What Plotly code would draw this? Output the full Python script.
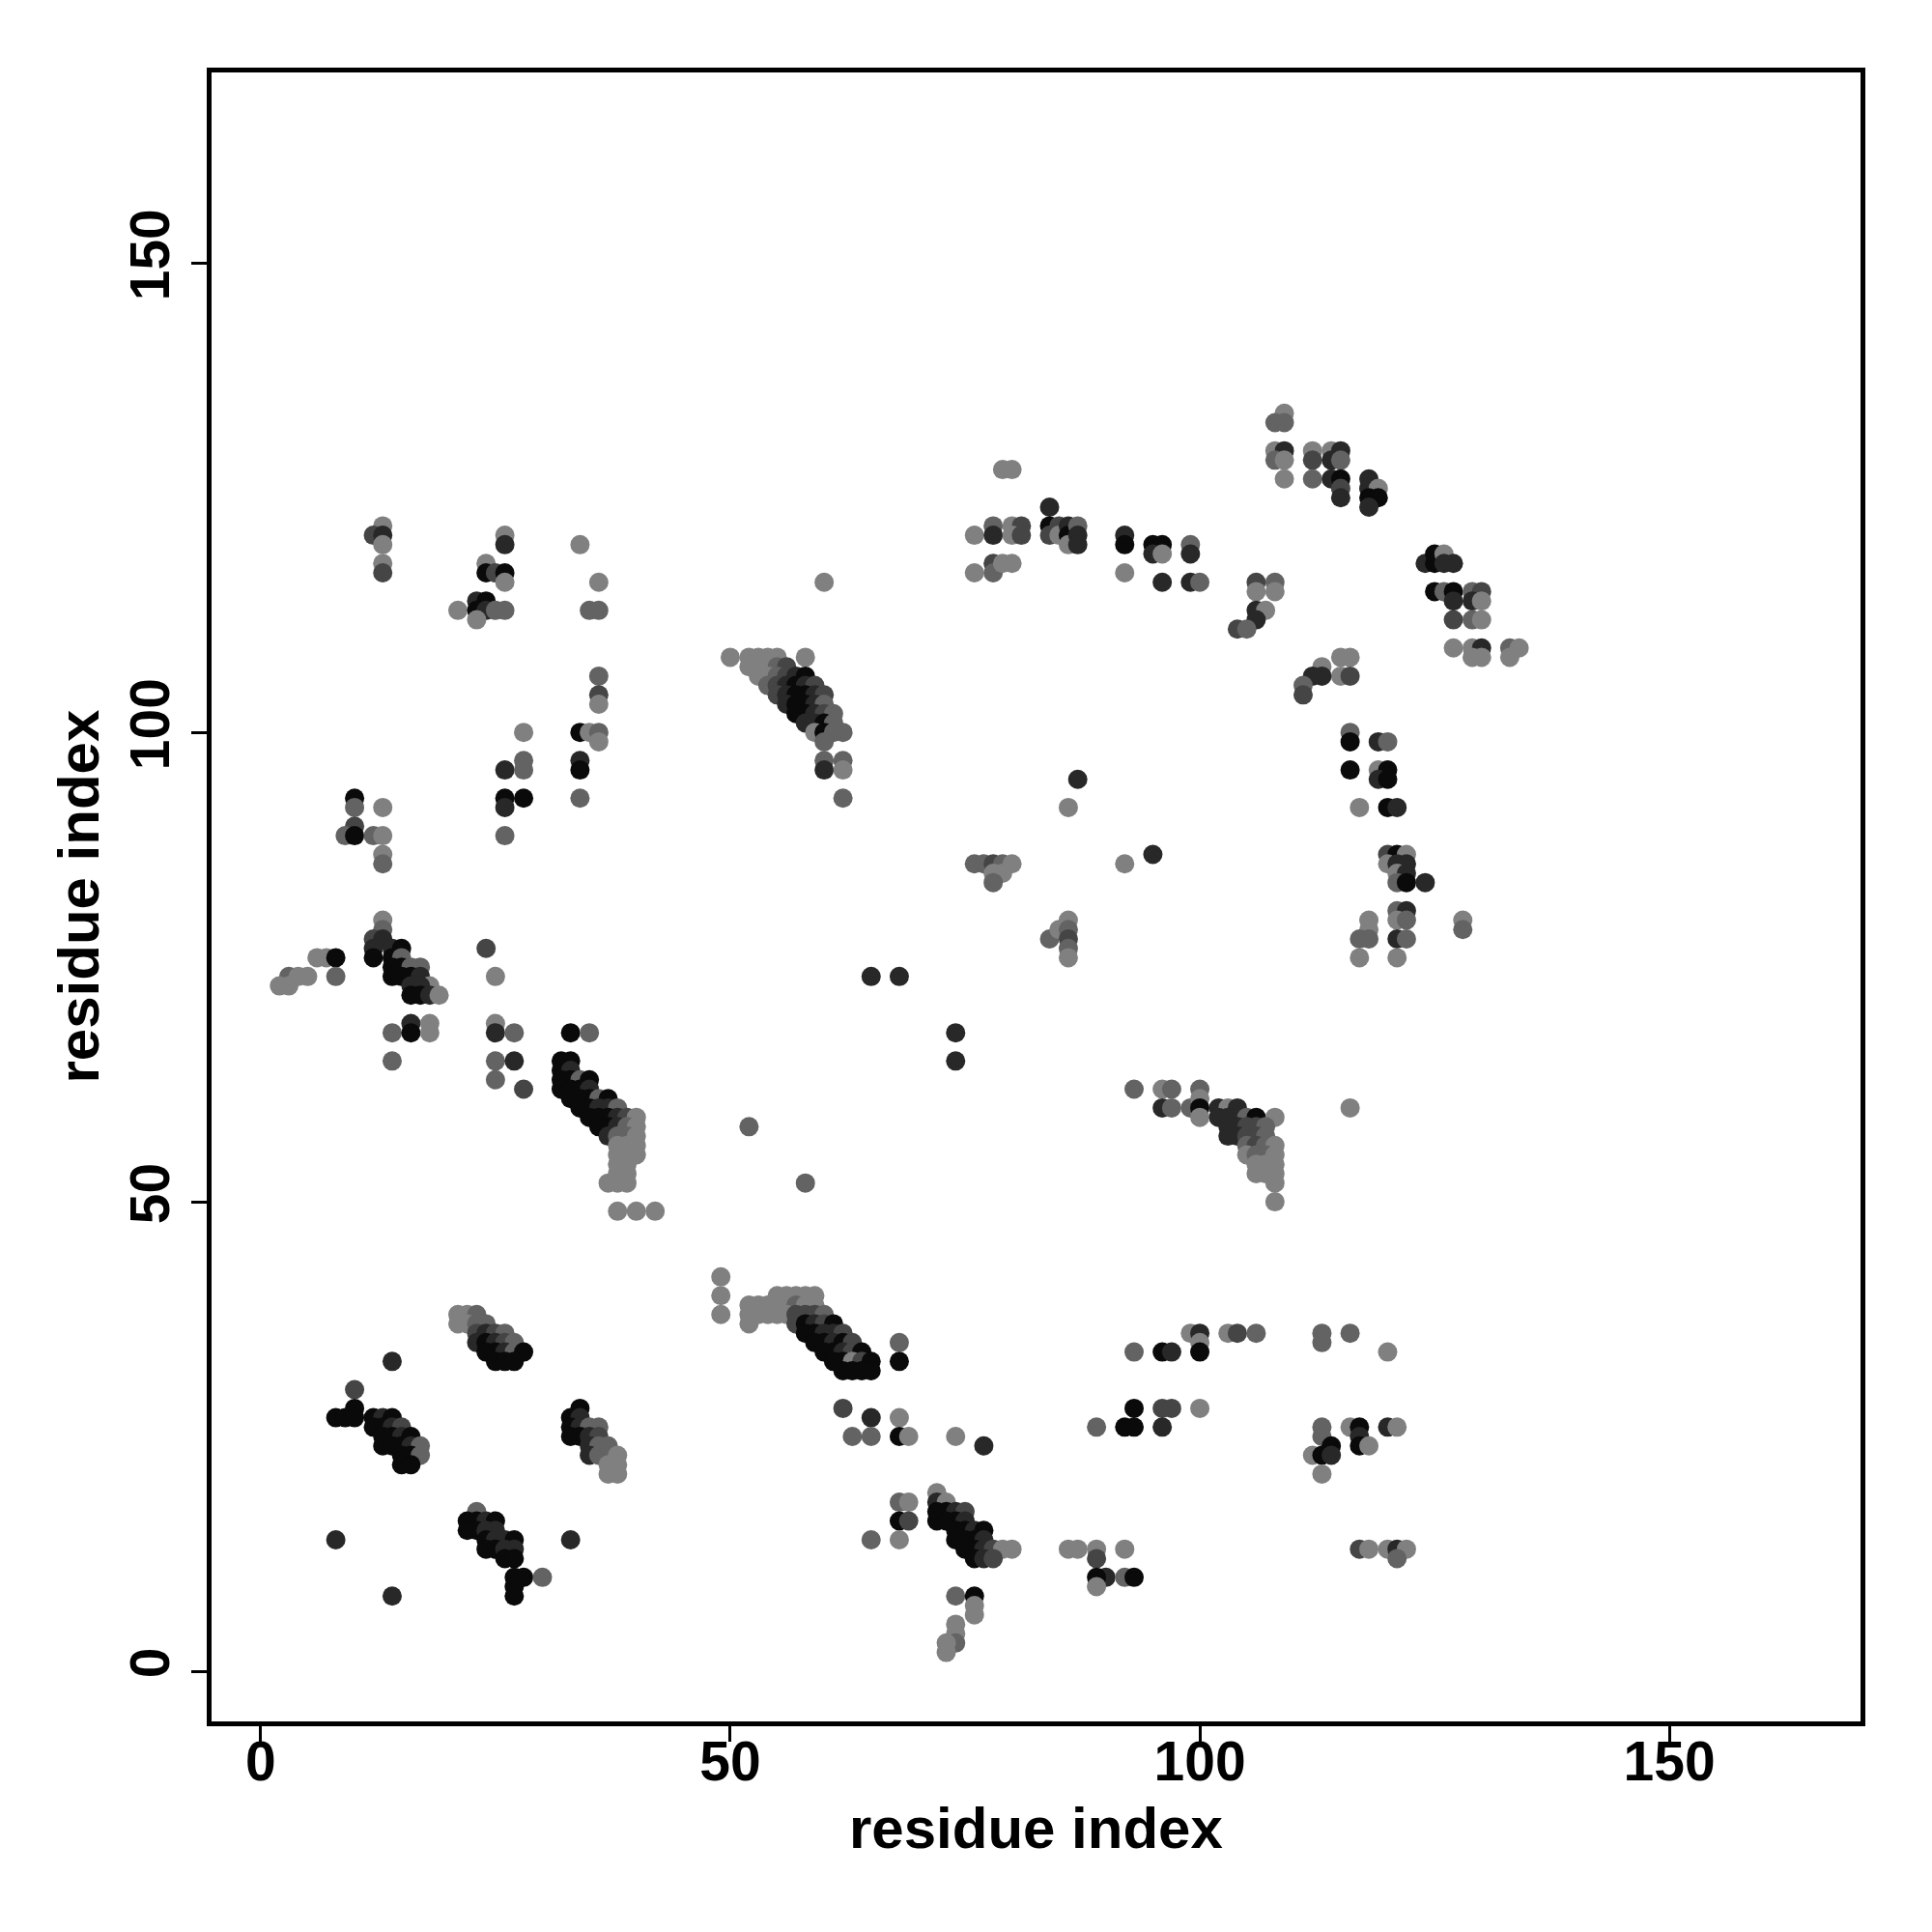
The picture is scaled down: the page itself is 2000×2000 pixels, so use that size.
import plotly.graph_objects as go

# contact points: (residue i, residue j, intensity level 1=light .. 5=black)
contacts = [
    # top-left
    (13,122,1),(12,121,3),(13,121,4),(13,120,1),(13,118,1),(13,117,3),
    (26,121,1),(26,120,4),(34,120,1),
    (24,118,1),(24,117,5),(25,117,3),(26,117,5),(26,116,1),(36,116,1),
    (21,113,1),(23,114,4),(24,114,5),(23,113,5),(24,113,4),(23,112,1),(25,113,2),(26,113,2),(35,113,2),(36,113,2),
    (36,106,2),(36,104,3),(36,103,1),
    (28,100,1),(34,100,5),(35,100,1),(36,100,2),(36,99,1),
    (26,96,4),(28,97,2),(28,96,2),(34,97,4),(34,96,5),
    (26,93,5),(26,92,4),(28,93,5),(34,93,2),
    (10,93,5),(10,92,2),(13,92,1),(10,90,3),(9,89,2),(10,89,5),(12,89,2),(13,89,1),(26,89,2),
    (13,87,1),(13,86,2),
    (13,80,1),(13,79,2),(12,78,3),(13,78,4),(12,77,4),(12,76,5),(14,77,4),(15,77,5),(14,76,5),(15,76,2),
    (14,75,5),(15,75,5),(16,75,2),(17,75,2),(14,74,5),(15,74,5),(16,74,5),(17,74,4),(18,73,1),(16,73,4),(17,73,4),
    (16,72,5),(17,72,5),(18,72,4),(19,72,1),
    (6,76,1),(7,76,1),(8,76,5),(8,74,2),(3,74,2),(4,74,1),(5,74,1),(2,73,1),(3,73,1),
    (24,77,3),(25,74,1),
    (14,68,2),(16,69,4),(16,68,5),(18,69,1),(18,68,1),(25,69,1),(25,68,4),(27,68,2),(33,68,5),(35,68,2),
    (14,65,2),(25,65,2),(27,65,4),(25,63,2),(28,62,3),
    (32,65,5),(33,65,5),(32,64,5),(33,64,4),
    (32,63,5),(33,63,5),(34,63,2),(35,63,5),
    (32,62,5),(33,62,5),(34,62,5),(35,62,4),
    (33,61,5),(34,61,5),(35,61,5),(36,61,2),(37,61,5),
    (34,60,5),(35,60,5),(36,60,4),(37,60,4),(38,60,2),
    (35,59,5),(36,59,5),(37,59,5),(38,59,4),(39,59,3),(40,59,1),
    (36,58,5),(37,58,5),(38,58,4),(39,58,2),(40,58,1),
    (37,57,4),(38,57,2),(39,57,2),(40,57,1),
    (38,56,1),(39,56,1),(40,56,1),(38,55,1),(39,55,1),(40,55,1),
    (38,54,1),(39,54,1),(38,53,1),(39,53,1),(37,52,1),(38,52,1),(39,52,1),
    (38,49,1),(40,49,1),(42,49,1),
    # lower-left
    (21,38,1),(22,38,1),(23,38,2),(21,37,1),(22,37,1),(23,37,2),(24,37,2),
    (23,36,3),(24,36,4),(25,36,3),(26,36,2),
    (23,35,4),(24,35,5),(25,35,4),(26,35,3),(27,35,2),
    (24,34,5),(25,34,5),(26,34,4),(27,34,2),(28,34,5),
    (25,33,5),(26,33,5),(27,33,5),(14,33,4),
    (10,30,3),(8,27,5),(9,27,5),(10,28,5),(10,27,5),
    (12,27,5),(13,27,4),(14,27,5),(12,26,5),(13,26,5),(14,26,4),(15,26,3),
    (13,25,5),(14,25,5),(15,25,4),(16,25,5),
    (13,24,5),(14,24,5),(15,24,5),(16,24,4),(17,24,2),
    (15,23,5),(16,23,5),(17,23,2),(15,22,5),(16,22,5),
    (34,28,5),(33,27,5),(34,27,4),(33,26,5),(34,26,4),(35,26,2),(36,26,2),
    (33,25,5),(34,25,5),(35,25,4),(36,25,3),(35,24,4),(36,24,2),(37,24,2),
    (35,23,4),(36,23,2),(37,23,2),(38,23,1),(37,22,1),(38,22,1),(37,21,1),(38,21,1),
    (23,17,2),(22,16,5),(23,16,5),(24,16,4),(25,16,5),
    (22,15,5),(23,15,5),(24,15,4),(25,15,4),
    (24,14,5),(25,14,4),(26,14,4),(27,14,5),
    (24,13,5),(25,13,5),(26,13,4),(27,13,4),(26,12,5),(27,12,5),
    (27,10,5),(28,10,5),(30,10,2),(27,9,5),(27,8,5),
    (8,14,4),(33,14,4),(14,8,4),
    # middle diagonal
    (50,108,1),(52,108,1),(53,108,1),(54,108,1),(55,108,1),(58,108,1),
    (52,107,1),(53,107,1),(54,107,1),(55,107,2),(56,107,3),
    (53,106,1),(54,106,1),(55,106,2),(56,106,3),(57,106,4),(58,106,5),
    (54,105,2),(55,105,3),(56,105,4),(57,105,5),(58,105,4),(59,105,3),
    (55,104,3),(56,104,4),(57,104,5),(58,104,5),(59,104,4),(60,104,3),
    (56,103,4),(57,103,5),(58,103,5),(59,103,4),(60,103,2),
    (57,102,5),(58,102,5),(59,102,4),(60,102,3),(61,102,2),
    (58,101,4),(59,101,4),(60,101,5),(61,101,2),
    (59,100,1),(60,100,5),(61,100,2),(62,100,2),
    (60,99,2),(60,97,2),(60,96,4),(62,97,2),(62,96,1),(62,93,2),
    (87,95,4),(86,92,1),
    (76,86,2),(77,86,2),(78,86,3),(79,86,2),(80,86,1),(78,85,1),(79,85,1),(78,84,2),
    (84,78,2),(85,79,1),(86,80,1),(86,79,2),(86,78,3),(86,77,2),(86,76,1),
    (65,74,4),(68,74,4),(74,68,4),(74,65,4),(92,86,1),(95,87,4),
    (79,128,1),(80,128,1),(84,124,4),
    (76,121,1),(78,122,2),(78,121,4),(80,122,1),(81,122,3),(80,121,1),(81,121,3),
    (84,122,5),(84,121,3),(85,122,3),(85,121,1),(86,122,4),(86,121,5),(86,120,1),(87,122,2),(87,121,4),(87,120,4),
    (76,117,1),(78,118,3),(78,117,2),(79,118,1),(80,118,1),(60,116,1),
    # top-right
    (109,134,1),(108,133,2),(109,133,2),
    (108,130,1),(109,130,4),(112,130,1),(114,130,1),(115,130,4),
    (108,129,2),(109,129,1),(112,129,3),(114,129,4),(115,129,2),
    (109,127,1),(112,127,2),(114,127,4),(115,127,5),(115,126,3),(115,125,4),
    (118,127,4),(118,126,4),(119,126,1),(118,125,5),(119,125,5),(118,124,4),
    (92,121,4),(92,120,5),(95,120,5),(96,120,5),(95,119,4),(96,119,1),(99,120,2),(99,119,4),(92,117,1),
    (96,116,4),(99,116,4),(100,116,2),
    (106,116,3),(108,116,2),(106,115,1),(108,115,1),(106,113,4),(107,113,1),(106,112,4),(104,111,3),(105,111,2),
    (124,118,4),(125,119,5),(125,118,5),(126,119,1),(126,118,4),(127,118,4),
    (125,115,5),(126,115,2),(127,115,5),(127,114,4),(129,115,2),(130,115,3),(129,114,4),(130,114,1),
    (127,112,3),(129,112,2),(130,112,1),
    (127,109,1),(129,109,1),(130,109,4),(129,108,1),(130,108,1),(133,109,2),(134,109,1),(133,108,1),
    (115,108,1),(116,108,1),(115,106,1),(116,106,3),(113,107,1),(112,106,4),(113,106,4),(111,105,2),(111,104,3),
    (116,100,2),(116,99,5),(119,99,4),(120,99,2),(116,96,5),(119,96,1),(120,96,5),(119,95,4),(120,95,5),
    (117,92,1),(120,92,5),(121,92,4),
    (120,87,3),(121,87,5),(122,87,1),(120,86,1),(121,86,4),(122,86,4),(121,85,1),(122,85,4),(121,84,2),(122,84,5),(124,84,4),
    (121,81,2),(122,81,4),(121,80,1),(122,80,2),(121,78,4),(122,78,2),
    (118,80,1),(118,79,1),(117,78,2),(118,78,2),(117,76,1),(121,76,1),(128,80,1),(128,79,2),
    # right-middle
    (93,62,2),(96,62,1),(97,62,2),(96,60,4),(97,60,2),(99,60,2),(100,62,2),(100,61,1),(100,60,5),(100,59,1),
    (102,60,4),(103,60,1),(104,60,4),
    (102,59,4),(103,59,4),(104,59,4),(105,59,2),(106,59,5),(108,59,1),
    (103,58,4),(104,58,4),(105,58,3),(106,58,3),(107,58,2),
    (103,57,4),(104,57,4),(105,57,3),(106,57,3),(107,57,2),
    (105,56,2),(106,56,3),(107,56,2),(108,56,1),
    (105,55,1),(106,55,2),(107,55,2),(108,55,1),
    (106,54,1),(107,54,1),(108,54,1),(106,53,1),(107,53,1),(108,53,1),
    (108,52,1),(108,50,1),(116,60,1),
    (99,36,1),(100,36,4),(103,36,1),(104,36,3),(106,36,2),(113,36,2),(113,35,2),(116,36,2),(100,35,1),
    (93,34,2),(96,34,5),(97,34,4),(100,34,5),(120,34,1),
    (93,28,5),(96,28,3),(97,28,3),(100,28,1),(92,26,5),(93,26,5),(96,26,4),(89,26,2),
    (113,26,2),(113,25,2),(114,24,5),(112,23,1),(113,23,5),(114,23,4),(113,21,1),
    (116,26,1),(117,26,5),(117,25,4),(117,24,5),(118,24,1),(120,26,4),(121,26,1),
    (92,13,1),(90,10,4),(92,10,2),(93,10,5),
    (117,13,3),(118,13,1),(120,13,1),(121,13,4),(122,13,1),(121,12,2),
    # lower-middle
    (52,58,2),(58,52,2),(49,42,1),(49,40,1),(49,38,1),
    (55,40,1),(56,40,1),(57,40,1),(58,40,1),(59,40,1),
    (52,39,1),(53,39,1),(54,39,1),(55,39,1),(56,39,1),(57,39,2),(58,39,1),(59,39,1),
    (52,38,1),(53,38,1),(54,38,1),(55,38,1),(56,38,1),(57,38,3),(58,38,3),(59,38,3),(60,38,2),
    (52,37,1),(57,37,3),(58,37,5),(59,37,4),(60,37,3),(61,37,5),
    (58,36,5),(59,36,5),(60,36,4),(61,36,4),(62,36,3),
    (59,35,5),(60,35,5),(61,35,4),(62,35,5),(63,35,3),
    (60,34,5),(61,34,5),(62,34,4),(63,34,3),(64,34,5),
    (61,33,5),(62,33,5),(63,33,1),(64,33,3),(65,33,5),
    (62,32,5),(63,32,5),(64,32,5),(65,32,5),
    (68,35,2),(68,33,5),
    (62,28,3),(65,27,4),(68,27,1),(63,25,2),(65,25,2),(68,25,5),(69,25,1),(74,25,1),(77,24,4),
    (68,18,2),(69,18,1),(68,16,5),(69,16,3),(65,14,2),(68,14,1),
    (72,19,1),(72,18,4),(73,18,1),
    (72,17,5),(73,17,5),(74,17,4),(75,17,3),
    (72,16,5),(73,16,5),(74,16,5),(75,16,4),
    (74,15,5),(75,15,5),(76,15,4),(77,15,5),
    (74,14,5),(75,14,5),(76,14,5),(77,14,4),
    (75,13,5),(76,13,5),(77,13,4),(78,13,3),(79,13,1),(80,13,1),
    (76,12,5),(77,12,4),(78,12,3),
    (86,13,1),(87,13,1),(89,13,1),(89,12,3),(89,10,5),(89,9,1),
    (74,8,2),(76,8,5),(76,7,1),(76,6,1),(74,5,1),(74,4,1),(74,3,2),(73,3,1),(73,2,1),
]

residue_i = [c[0] for c in contacts]
residue_j = [c[1] for c in contacts]
level = [c[2] for c in contacts]
tick_vals = [0, 50, 100, 150]

fig = go.Figure(go.Scatter(
    x=residue_i, y=residue_j, mode="markers",
    marker=dict(size=20, color=level, cmin=1, cmax=5,
                colorscale=[[0, "#808080"], [1, "#0a0a0a"]],
                line=dict(width=0), opacity=1),
    showlegend=False,
))

font = dict(family="Liberation Sans, Arial, sans-serif", size=57, color="black", weight="bold")
title_font = dict(family="Liberation Sans, Arial, sans-serif", size=60, color="black", weight="bold")
axis_common = dict(
    tickvals=tick_vals, ticktext=[str(v) for v in tick_vals],
    showgrid=False, zeroline=False, showline=True, mirror=True,
    linecolor="black", linewidth=5, ticks="outside", ticklen=16, tickwidth=3,
    tickcolor="black", tickfont=font,
)
fig.update_layout(
    width=2000, height=2000, autosize=False,
    margin=dict(l=211, r=82, t=67, b=226),
    plot_bgcolor="white", paper_bgcolor="white",
    xaxis=dict(range=[-5.23, 170.35], ticklabelstandoff=-28, **axis_common),
    yaxis=dict(range=[-5.35, 170.3], tickangle=-90, **axis_common),
    annotations=[
        dict(text="residue index", xref="paper", yref="paper", x=0.5, y=0,
             xanchor="center", yanchor="middle", yshift=-110, showarrow=False, font=title_font),
        dict(text="residue index", xref="paper", yref="paper", x=0, y=0.5,
             xanchor="center", yanchor="middle", xshift=-138, textangle=-90, showarrow=False, font=title_font),
    ],
)
fig.write_html("out.html")
